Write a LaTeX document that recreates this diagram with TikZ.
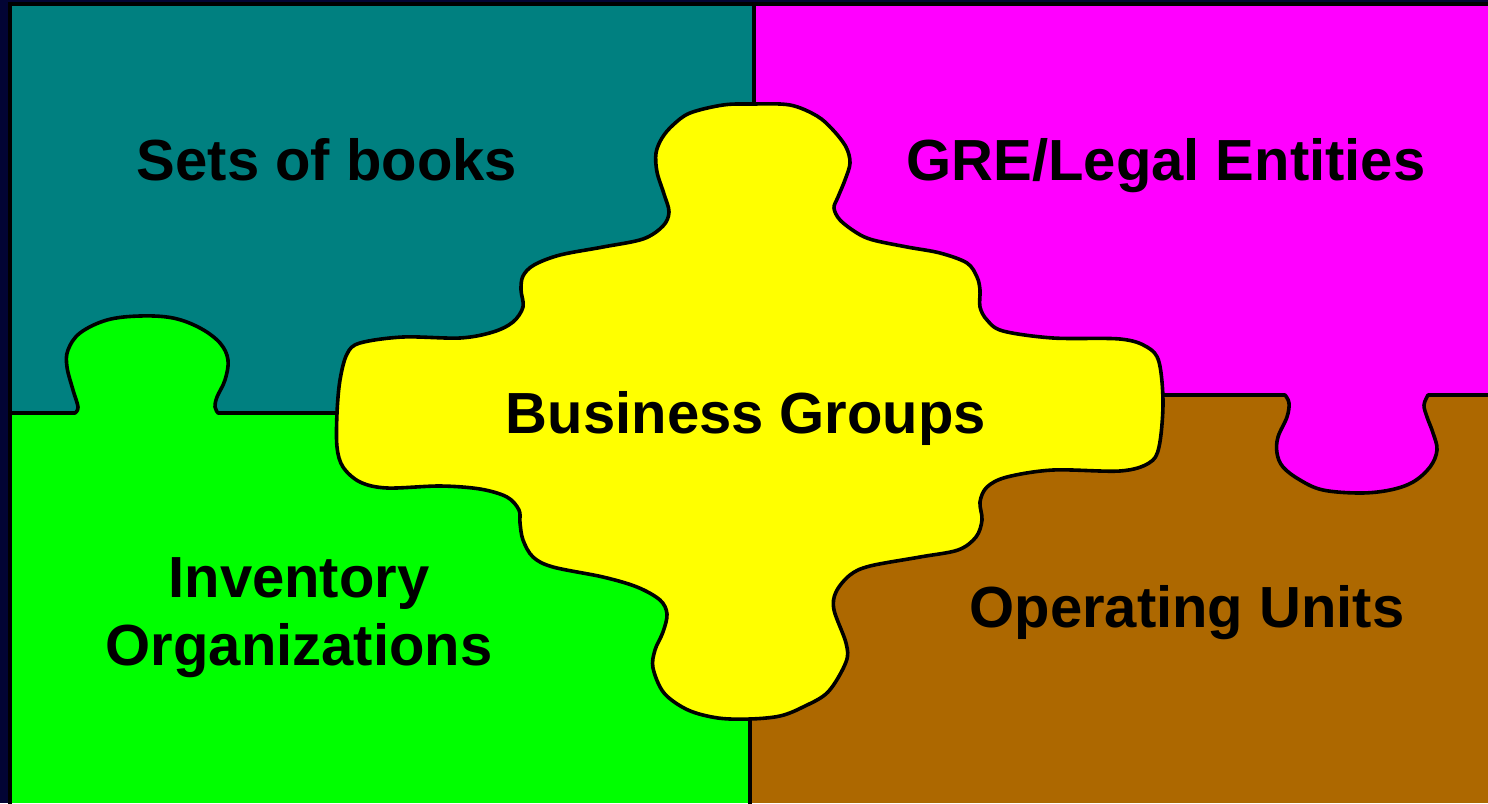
\documentclass[tikz,border=0pt]{standalone}
\usepackage{fontspec}
\setmainfont{Liberation Sans}
\definecolor{navy}{RGB}{2,4,52}
\definecolor{tealp}{RGB}{0,128,128}
\definecolor{magp}{RGB}{255,0,255}
\definecolor{greenp}{RGB}{0,255,0}
\definecolor{brownp}{RGB}{173,104,0}
\definecolor{yellowp}{RGB}{255,255,0}
\begin{document}
\begin{tikzpicture}[x=1pt,y=-1pt,
  edge/.style={draw=black,line width=3.6pt,line join=round},
  label/.style={font=\fontsize{58}{68}\selectfont\bfseries,text=black,anchor=base,inner sep=0pt}]
\useasboundingbox (0,0) rectangle (1488,803);
\fill[navy] (0,0) rectangle (1488,803);
% four quarter pieces
\fill[tealp] (9.5,3.5) rectangle (754,413);
\fill[magp] (754,3.5) rectangle (1488,395);
\fill[greenp] (9.5,413) rectangle (752,803);
\fill[brownp] (750,395) rectangle (1488,803);
% tab of the lower-left piece
\fill[greenp] plot[smooth,tension=0.6] coordinates {(75,414) (78,407) (73,390) (67,367) (68,350) (80,333) (107,320) (140,316) (173,318) (200,328) (220,343) (228,360) (225,380) (217,397) (215,407) (218,414)} -- cycle;
% tab of the upper-right piece
\fill[magp] plot[smooth,tension=0.6] coordinates {(1285,394) (1289,403) (1287,417) (1278,437) (1277,453) (1283,467) (1300,480) (1323,490) (1360,493) (1390,490) (1413,482) (1430,467) (1437,450) (1433,433) (1427,417) (1424,405) (1428,394)} -- cycle;
% seams between the pieces
\draw[edge] (9.5,413) -- (75,413) -- plot[smooth,tension=0.6] coordinates {(75,413) (78,407) (73,390) (67,367) (68,350) (80,333) (107,320) (140,316) (173,318) (200,328) (220,343) (228,360) (225,380) (217,397) (215,407) (218,413)} -- (345,413);
\draw[edge] (1155,395) -- (1285,395) -- plot[smooth,tension=0.6] coordinates {(1285,395) (1289,403) (1287,417) (1278,437) (1277,453) (1283,467) (1300,480) (1323,490) (1360,493) (1390,490) (1413,482) (1430,467) (1437,450) (1433,433) (1427,417) (1424,405) (1428,395)} -- (1490,395);
\draw[edge] (754,3.5) -- (754,112);
\draw[edge] (750,712) -- (750,805);
% central piece
\draw[edge,fill=yellowp] plot[smooth cycle,tension=0.55] coordinates {
 (723,105) (752,104) (790,105) (817,116) (833,130) (846,147) (850,163) (845,180) (838,197) (834,208) (840,220) (857,233) (873,240) (907,247) (940,253) (967,263) (977,277) (980,290) (980,307) (987,320) (1003,331) (1053,338) (1120,339) (1147,347) (1159,362) (1163,403) (1159,447) (1149,463) (1120,471) (1053,470) (1007,477) (987,487) (980,502) (982,520) (976,537) (958,550) (920,557) (870,566) (850,575) (836,592) (834,610) (846,643) (846,662) (828,692) (803,707) (780,716) (750,719) (718,718) (688,710) (664,693) (653,668) (655,650) (663,632) (667,614) (660,600) (637,587) (603,577) (553,567) (533,557) (523,540) (520,523) (519,510) (507,497) (480,489) (440,486) (387,488) (360,482) (343,467) (337,447) (337,413) (340,380) (347,354) (360,343) (403,337) (460,338) (493,332) (513,322) (523,307) (521,290) (523,276) (534,265) (560,255) (603,247) (643,239) (663,226) (669,212) (664,194) (657,172) (656,153) (662,138) (673,125) (690,113)};
% outer frame
\draw[black,line width=4pt] (9.5,805) -- (9.5,3.5) -- (1490,3.5);
% labels
\node[label] (sob) at (327,180) {Sets of books};
\node[label] (gre) at (1166,180) {GRE/Legal Entities};
\node[label] (bg) at (746,433) {Business Groups};
\node[label] (inv1) at (299,597) {Inventory};
\node[label] (inv2) at (299,665) {Organizations};
\node[label] (ou) at (1187,627) {Operating Units};
\end{tikzpicture}
\end{document}
